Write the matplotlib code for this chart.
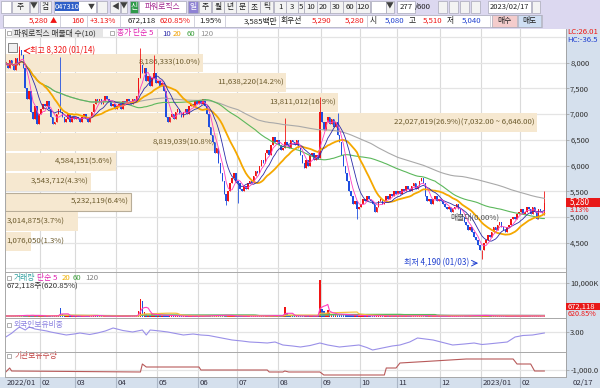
import numpy as np
import pandas as pd
import matplotlib
matplotlib.use('Agg')
import matplotlib.pyplot as plt
from matplotlib.patches import Rectangle

plt.rcParams['font.family'] = ['Noto Sans CJK KR', 'DejaVu Sans']

# ---------------- DATA ----------------
month_labels = ['2022/01', '02', '03', '04', '05', '06', '07', '08', '09', '10', '11', '12', '2023/01', '02']
month_bars = [18, 18, 21, 21, 21, 20, 21, 22, 20, 19, 22, 21, 20, 13]

close_2022_01 = [8000, 7900, 8050, 7950, 7850, 8100, 7950, 8250, 8150, 7900, 7500, 7300, 7450, 7050, 6900, 7150, 6800, 7000]
close_2022_02 = [7100, 7200, 7150, 7250, 7100, 6950, 6800, 6850, 7000, 7100, 7050, 6950, 6850, 6900, 7000, 6850, 6950, 6900]
close_2022_03 = [6950, 6900, 6850, 6950, 7000, 6900, 6850, 6950, 7050, 7200, 7300, 7250, 7300, 7200, 7250, 7350, 7300, 7250, 7150, 7200, 7100]
close_2022_04 = [7150, 7200, 7100, 7250, 7200, 7300, 7250, 7200, 7300, 7250, 7350, 7700, 7950, 7800, 7900, 7650, 7750, 7550, 7700, 7800, 7600]
close_2022_05 = [7650, 7550, 7600, 7450, 6950, 6850, 6950, 7000, 6900, 7050, 7100, 7000, 6950, 7050, 7100, 7000, 7150, 7200, 7150, 7250, 7200]
close_2022_06 = [7250, 7200, 7300, 7150, 7000, 6750, 6600, 6450, 6250, 6350, 6050, 5850, 5700, 5450, 5300, 5500, 5650, 5750, 5850, 5700]
close_2022_07 = [5650, 5550, 5500, 5600, 5550, 5650, 5700, 5650, 5800, 5900, 5850, 6000, 6100, 6050, 6250, 6300, 6200, 6400, 6550, 6450, 6500]
close_2022_08 = [6400, 6300, 6350, 6450, 6400, 6350, 6500, 6450, 6400, 6500, 6350, 6200, 6050, 5950, 6100, 6000, 6200, 6250, 6100, 6200, 6150, 7050]
close_2022_09 = [6850, 6700, 6850, 6950, 6800, 6900, 6750, 6850, 6600, 6450, 6200, 6000, 5850, 5700, 5500, 5400, 5250, 5300, 5150, 5200]
close_2022_10 = [5250, 5350, 5300, 5400, 5350, 5300, 5250, 5100, 5200, 5300, 5350, 5250, 5300, 5400, 5350, 5450, 5400, 5500, 5450]
close_2022_11 = [5500, 5450, 5550, 5500, 5600, 5550, 5500, 5600, 5650, 5550, 5600, 5700, 5750, 5650, 5400, 5300, 5350, 5250, 5350, 5400, 5300, 5350]
close_2022_12 = [5300, 5250, 5200, 5150, 5200, 5100, 5150, 5200, 5250, 5150, 5050, 5000, 4900, 4850, 4750, 4800, 4700, 4600, 4550, 4450, 4350]
close_2023_01 = [4350, 4500, 4550, 4650, 4600, 4700, 4800, 4750, 4850, 4900, 4800, 4750, 4700, 4800, 4850, 4950, 5000, 4950, 5050, 5100]
close_2023_02 = [5150, 5050, 5100, 5200, 5150, 5050, 5200, 5100, 4950, 5150, 5100, 5080, 5280]

open_override = {276: 5080}
high_override = {7: 8320, 28: 8120, 69: 8290, 76: 8150, 143: 6930, 161: 7330, 170: 7030, 276: 5510}
low_override = {113: 5230, 119: 5270, 180: 4950, 244: 4190, 276: 5040}

vol_2022_01 = [310, 280, 350, 260, 300, 420, 380, 520, 450, 390, 610, 480, 430, 550, 470, 380, 520, 400]
vol_2022_02 = [350, 300, 280, 320, 260, 380, 420, 350, 300, 330, 2600, 900, 450, 380, 320, 300, 280, 350]
vol_2022_03 = [250, 230, 280, 240, 220, 260, 300, 280, 320, 650, 500, 380, 300, 270, 250, 260, 310, 280, 240, 230, 260]
vol_2022_04 = [220, 250, 210, 260, 240, 230, 280, 260, 300, 350, 450, 1800, 5300, 4700, 1500, 900, 700, 600, 1100, 800, 600]
vol_2022_05 = [550, 480, 420, 650, 500, 400, 350, 300, 320, 280, 300, 260, 250, 270, 240, 230, 280, 300, 260, 280, 250]
vol_2022_06 = [260, 240, 280, 300, 350, 420, 380, 400, 450, 350, 480, 520, 450, 600, 550, 400, 350, 330, 300, 280]
vol_2022_07 = [300, 280, 250, 260, 240, 230, 260, 250, 280, 300, 270, 320, 350, 300, 380, 400, 350, 420, 480, 400, 380]
vol_2022_08 = [450, 380, 420, 3000, 1200, 500, 400, 350, 330, 300, 320, 280, 300, 350, 380, 300, 280, 260, 300, 280, 350, 11000]
vol_2022_09 = [2500, 1800, 1200, 2000, 1100, 900, 800, 700, 900, 1000, 800, 700, 650, 600, 700, 550, 500, 450, 500, 420]
vol_2022_10 = [400, 380, 350, 320, 300, 350, 330, 450, 400, 350, 300, 320, 280, 300, 350, 330, 300, 380, 350]
vol_2022_11 = [320, 300, 350, 330, 300, 280, 300, 350, 400, 320, 300, 380, 420, 350, 450, 380, 320, 300, 280, 300, 270, 260]
vol_2022_12 = [250, 240, 260, 230, 220, 250, 240, 230, 260, 250, 280, 300, 320, 350, 400, 350, 380, 420, 400, 450, 500]
vol_2023_01 = [550, 450, 400, 380, 350, 300, 320, 300, 280, 300, 270, 260, 250, 280, 300, 320, 300, 280, 310, 300]
vol_2023_02 = [320, 280, 300, 330, 300, 280, 310, 290, 300, 320, 280, 108, 672]

# volume profile (매물대) : 10 bins from top
profile_top = 8190
profile_step = 386
profile_vol = [8186333, 11638220, 13811012, 22027619, 8819039, 4584151, 3543712, 5232119, 3014875, 1076050]
profile_pct = [10.0, 14.2, 16.9, 26.9, 10.8, 5.6, 4.3, 6.4, 3.7, 1.3]

# foreign ownership (%) at bar index
foreign_idx = [0, 3, 5, 7, 10, 12, 15, 18, 21, 23, 27, 31, 35, 38, 43, 47, 51, 55, 60, 65, 70, 72, 74, 79, 83, 87, 91, 96, 100, 104, 108, 112, 116,
               121, 125, 130, 134, 138, 142, 147, 151, 156, 161, 165, 171, 176, 181, 185, 188, 193, 198, 202, 207, 211, 215, 219, 224, 229, 235,
               240, 244, 247, 252, 257, 261, 265, 270, 273, 276]
foreign_val = [2.80, 2.95, 3.08, 3.20, 3.08, 3.20, 3.12, 3.08, 3.04, 3.00, 2.94, 2.88, 2.92, 2.96, 2.90, 2.96, 3.04, 3.16, 3.06, 3.00, 3.08, 2.88,
               3.08, 3.04, 3.00, 2.94, 2.88, 2.92, 2.88, 2.86, 2.80, 2.74, 2.68, 2.64, 2.60, 2.58, 2.56, 2.60, 2.48, 2.44, 2.40, 2.46, 2.56,
               2.48, 2.40, 2.44, 2.48, 2.38, 2.28, 2.36, 2.44, 2.48, 2.60, 2.76, 2.72, 2.68, 2.58, 2.48, 2.52, 2.56, 2.50, 2.52, 2.56, 2.60,
               2.80, 2.86, 2.88, 2.92, 2.96]

# institutional holdings at bar index
inst_idx = [0, 2, 3, 69, 70, 72, 99, 100, 134, 135, 142, 143, 145, 161, 163, 194, 195, 200, 202, 215, 236, 260, 262, 269, 271, 276]
inst_val = [-1200, -800, -1100, -1200, -400, -700, -700, -1000, -1000, -1200, -1200, -1100, -1200, -1200, -1500, -1500, -800, -800, -300,
            -150, 100, 100, -400, -400, -1100, -1100]

price_ticks = [8000, 7500, 7000, 6500, 6000, 5500, 5000, 4500]

# ---------------- BUILD ----------------
close = np.array(close_2022_01 + close_2022_02 + close_2022_03 + close_2022_04 + close_2022_05 + close_2022_06 + close_2022_07 +
                 close_2022_08 + close_2022_09 + close_2022_10 + close_2022_11 + close_2022_12 + close_2023_01 + close_2023_02, float)
vol = np.array(vol_2022_01 + vol_2022_02 + vol_2022_03 + vol_2022_04 + vol_2022_05 + vol_2022_06 + vol_2022_07 +
               vol_2022_08 + vol_2022_09 + vol_2022_10 + vol_2022_11 + vol_2022_12 + vol_2023_01 + vol_2023_02, float)
n = len(close)
idx = np.arange(n)
opn = np.r_[close[0], close[:-1]]
for k, v in open_override.items():
    opn[k] = v
hi = np.maximum(opn, close)
lo = np.minimum(opn, close)
for k, v in high_override.items():
    hi[k] = v
for k, v in low_override.items():
    lo[k] = v
up = close >= opn
RED, BLUE = '#f01414', '#1f4fe0'
cols = np.where(up, RED, BLUE)
cs = pd.Series(close)
mas = {p: cs.rolling(p, min_periods=1).mean() for p in (5, 10, 20, 60, 120)}
vs = pd.Series(vol)
vmas = {p: vs.rolling(p, min_periods=1).mean() for p in (5, 20, 60, 120)}
mstart = np.r_[0, np.cumsum(month_bars)[:-1]]

W, H = 600, 388
fig = plt.figure(figsize=(6, 3.88), dpi=100)
fig.patch.set_facecolor('white')


def axpx(x0, y0, x1, y1):
    return fig.add_axes([x0 / W, 1 - y1 / H, (x1 - x0) / W, (y1 - y0) / H])


def fbox(x0, y0, x1, y1, fc, ec='none', lw=0.6, z=0):
    fig.add_artist(Rectangle((x0 / W, 1 - y1 / H), (x1 - x0) / W, (y1 - y0) / H, transform=fig.transFigure,
                             fc=fc, ec=ec, lw=lw, zorder=z))


def ftext(x, y, s, size=5.6, color='#202020', ha='left', z=5, **kw):
    fig.text(x / W, 1 - y / H, s, fontsize=size, color=color, ha=ha, va='center', zorder=z, **kw)


XL = (-0.4, 287.1)
GRID = '#dadada'

fbox(566, 28, 600, 388, '#d5e0ed')
fbox(0, 377, 600, 388, '#d5e0ed')


def style(ax):
    ax.set_xlim(*XL)
    ax.set_facecolor('white')
    for s in ['left', 'top', 'bottom']:
        ax.spines[s].set_visible(False)
    ax.spines['right'].set_color('#9a9a9a')
    ax.spines['right'].set_linewidth(0.6)
    ax.set_xticks([])
    ax.yaxis.tick_right()
    ax.tick_params(axis='y', labelsize=5.5, length=2, pad=1, colors='#9a9a9a', labelcolor='#303030', width=0.5)
    for m in mstart[1:]:
        ax.axvline(m - 0.5, color=GRID, lw=0.8, zorder=0)


# ---------- price panel ----------
ax = axpx(5, 29, 566, 272)
style(ax)
ax.set_ylim(3928, 8656)
for p in [8500] + price_ticks + [4000]:
    ax.axhline(p, color='#e4e4e4', lw=0.9, zorder=0)
ax.set_yticks(price_ticks)
ax.set_yticklabels([f'{p:,}' for p in price_ticks])

span = XL[1] - XL[0]
maxv = max(profile_vol)
for b, (v, pc) in enumerate(zip(profile_vol, profile_pct)):
    top = profile_top - b * profile_step
    cen = top - profile_step / 2
    wfrac = v / maxv * 0.948
    hl = (b == 7)
    ax.barh(cen, wfrac * span, height=profile_step * 0.93, left=XL[0], color='#f6e8d0',
            ec='#b8ad98' if hl else 'none', lw=0.8, zorder=1)
    label = f'{v:,}({pc}%)'
    if b == 3:
        label += f'({profile_top - 3 * profile_step:,}.00 ~ {profile_top - 4 * profile_step:,}.00)'
    end = XL[0] + wfrac * span
    if wfrac > 0.13:
        ax.text(end - 1.2, cen, label, fontsize=5.6, color='#6b5a2c', ha='right', va='center', zorder=2)
    else:
        ax.text(XL[0] + 0.8, cen, label, fontsize=5.6, color='#6b5a2c', ha='left', va='center', zorder=2)

ax.vlines(idx, lo, hi, colors=cols, lw=0.6, zorder=3)
body_h = np.maximum(np.abs(close - opn), 12)
ax.bar(idx, body_h, bottom=np.minimum(opn, close), width=0.82, color=cols, lw=0, zorder=4)

ax.plot(idx, mas[120], color='#a9a9a9', lw=0.8, zorder=5)
ax.plot(idx, mas[60], color='#5cb85c', lw=0.8, zorder=5)
ax.plot(idx, mas[20], color='#f5a800', lw=1.3, zorder=6)
ax.plot(idx, mas[10], color='#2c2ca8', lw=0.6, zorder=6)
ax.plot(idx, mas[5], color='#ff3fc0', lw=0.6, zorder=6)

i_hi = int(np.argmax(hi))
i_lo = int(np.argmin(lo))
ax.annotate('', xy=(i_hi + 0.5, 8320 - 90), xytext=(i_hi + 5, 8320 - 90),
            arrowprops=dict(arrowstyle='->', color=RED, lw=0.7), zorder=8)
ax.text(i_hi + 5.5, 8320 - 90, f'최고 {int(hi[i_hi]):,} (01/14)', fontsize=5.8, color=RED, va='center', zorder=8)
ax.annotate('', xy=(i_lo - 0.5, 4190 - 90), xytext=(i_lo - 6, 4190 - 90),
            arrowprops=dict(arrowstyle='->', color='#2040d0', lw=0.7), zorder=8)
ax.text(i_lo - 6.5, 4190 - 90, f'최저 {int(lo[i_lo]):,} (01/03)', fontsize=5.8, color='#2040d0', va='center', ha='right', zorder=8)
ax.text(228, 5000, '매물대(0.00%)', fontsize=5.6, color='#505050', va='center', zorder=7)

fbox(7, 31, 11, 35, 'white', '#909090', lw=0.5, z=6)
fbox(12, 29, 103, 38, '#e6e6e6', z=5)
ftext(14, 33.5, '파워로직스 매물대 수(10)', color='#303030', z=7)
fbox(110, 31, 114, 35, 'white', '#909090', lw=0.5, z=6)
ftext(117, 33.5, '종가 단순 5', color='#e020b0', z=7)
ftext(162, 33.5, '10', color='#2c2ca8', z=7)
ftext(173, 33.5, '20', color='#f0a000', z=7)
ftext(187, 33.5, '60', color='#40a040', z=7)
ftext(200, 33.5, '120', color='#909090', z=7)
fbox(8, 43, 17, 52, '#f0f0f0', '#707070', lw=0.6, z=7)

ftext(567, 32, 'LC:26.01', color=RED, size=5.6, z=9)
ftext(567, 40.5, 'HC:-36.5', color='#2040d0', size=5.6, z=9)
fbox(566, 197.5, 600, 206.5, '#e81818', z=8)
ftext(570, 202, '5,280', color='white', size=5.8, z=9)
ftext(570, 209.8, '3.13%', color=RED, size=5.0, z=9)

# ---------- volume panel ----------
axv = axpx(5, 272, 566, 318)
style(axv)
axv.set_ylim(-294, 13235)
axv.axhline(10000, color='#e4e4e4', lw=0.9, zorder=0)
axv.set_yticks([10000])
axv.set_yticklabels(['10,000K'])
axv.bar(idx, vol, width=0.82, color=cols, lw=0, zorder=3)
axv.plot(idx, vmas[120], color='#b0b0b0', lw=0.9, zorder=4)
axv.plot(idx, vmas[60], color='#5cb85c', lw=0.9, zorder=4)
axv.plot(idx, vmas[20], color='#f5c040', lw=0.9, zorder=4)
axv.plot(idx, vmas[5], color='#ff3fc0', lw=0.8, zorder=4)
fbox(7, 276, 11, 280, 'white', '#909090', lw=0.5, z=6)
ftext(14, 278, '거래량', color='#30a0a0', z=7)
ftext(37, 278, '단순 5', color='#e020b0', z=7)
ftext(62, 278, '20', color='#f0b000', z=7)
ftext(73, 278, '60', color='#40a040', z=7)
ftext(85, 278, '120', color='#808080', z=7)
ftext(7, 286, f'{int(vol[-1] * 1000 + 118):,}주(620.85%)', color='#303030', z=7)
fbox(566, 302.5, 600, 310, '#e81818', z=8)
ftext(568, 306.2, '672,118', color='white', size=5.5, z=9)
ftext(568, 313.8, '620.85%', color=RED, size=5.2, z=9)

# ---------- foreign ownership ----------
axf = axpx(5, 318, 566, 352)
style(axf)
axf.set_ylim(2.20, 3.56)
axf.axhline(3.0, color='#e4e4e4', lw=0.9, zorder=0)
axf.set_yticks([3.0])
axf.set_yticklabels(['3.00'])
axf.plot(foreign_idx, foreign_val, color='#9a90e8', lw=0.8, zorder=3)
fbox(7, 323, 11, 327, 'white', '#909090', lw=0.5, z=6)
ftext(14, 325, '외국인보유비중', color='#8a80e0', z=7)

# ---------- institutional ----------
axi = axpx(5, 352, 566, 377)
style(axi)
axi.set_ylim(-1700, 800)
axi.axhline(-1000, color='#e4e4e4', lw=0.9, zorder=0)
axi.set_yticks([-1000])
axi.set_yticklabels(['-1,000.0'])
axi.plot(inst_idx, inst_val, color='#b85a5a', lw=0.8, zorder=3)
fbox(7, 354, 11, 358, 'white', '#909090', lw=0.5, z=6)
ftext(14, 356, '기관보유수량', color='#c04040', z=7)

for yy in (272, 318, 352, 377):
    fig.add_artist(plt.Line2D([5 / W, 566 / W], [1 - yy / H, 1 - yy / H], transform=fig.transFigure, color='#a8a8a8', lw=0.7, zorder=9))
fig.add_artist(plt.Line2D([5 / W, 5 / W], [1 - 29 / H, 1 - 377 / H], transform=fig.transFigure, color='#a8a8a8', lw=0.7, zorder=9))

# ---------- date axis ----------
axx = axpx(5, 377, 566, 388)
axx.set_xlim(*XL)
axx.set_ylim(0, 1)
axx.axis('off')
axx.add_patch(Rectangle((XL[0], 0), span, 1, color='#d5e0ed', zorder=0))
for m, lab in zip(mstart, month_labels):
    if m > 0:
        axx.axvline(m - 0.5, color='#aab6c6', lw=0.8)
    axx.text(m + 0.2, 0.45, lab, fontsize=5.6, color='#303040', va='center', ha='left')
ftext(573, 382.5, '02/17', color='#303040')

# ---------- toolbar ----------
LAV = '#dcd8f0'
fbox(0, 0, 600, 28.5, LAV, z=1)
BTN = '#f3f3f3'
BEC = '#a8a8b8'
row1 = [(1, 11, '', 'white', '#303030'), (12, 29, '주', BTN, '#202020'), (30, 38, '▼', BTN, '#404040'),
        (40, 51, '검', BTN, '#202020'), (54, 96, '', 'white', '#202020'), (97, 107, '', BTN, '#202020'),
        (110, 120, '◀', BTN, '#404040'), (121, 127, '▼', BTN, '#404040'),
        (130, 138, '신', '#2f9a4a', 'white'), (139, 186, '파워로직스', 'white', '#a0208c'),
        (188, 198, '일', '#8e82d4', 'white'), (199, 211, '주', BTN, '#202020'), (212, 224, '월', BTN, '#202020'),
        (224, 236, '년', BTN, '#202020'), (236, 248, '분', BTN, '#202020'), (248, 260, '초', BTN, '#202020'),
        (260, 273, '틱', BTN, '#202020'), (274, 286, '1', BTN, '#202020'), (286, 298, '3', BTN, '#202020'),
        (298, 304, '5', BTN, '#202020'), (304, 317, '10', BTN, '#202020'), (317, 330, '20', BTN, '#202020'),
        (330, 343, '30', BTN, '#202020'), (343, 356, '60', BTN, '#202020'), (356, 370, '120', BTN, '#202020'),
        (371, 386, '', 'white', '#202020'), (386, 394, '▼', BTN, '#404040'), (397, 415, '277', 'white', '#202020'),
        (438, 447, '', BTN, '#202020'), (449, 458, '', BTN, '#202020'), (460, 469, '', BTN, '#202020'),
        (471, 480, '', BTN, '#202020'), (488, 531, '2023/02/17', 'white', '#202020'), (532, 540, '', BTN, '#202020')]
for x0, x1, s, fc, tc in row1:
    fbox(x0, 1, x1, 12.5, fc, BEC, lw=0.5, z=2)
    if s:
        ftext((x0 + x1) / 2, 6.8, s, color=tc, ha='center', size=5.6 if len(s) < 6 else 5.4, z=3)
fbox(55, 2.5, 79, 11, '#2f5fc8', z=3)
ftext(67, 6.8, '047310', color='white', ha='center', size=5.4, z=4)
ftext(88, 6.8, '▼', color='#404040', size=5, z=4)
ftext(415, 6.8, '/600', color='#202020', size=5.6, z=3)

fbox(3, 14.5, 542, 27, 'white', BEC, lw=0.5, z=2)
for xs in (60, 87, 120, 194, 225, 279, 367, 490):
    fig.add_artist(plt.Line2D([xs / W, xs / W], [1 - 15 / H, 1 - 27 / H], transform=fig.transFigure, color='#c0c0d0', lw=0.5, zorder=3))
r2 = 21
ftext(48, r2, '5,280', color=RED, ha='right', size=5.6)
ftext(50, r2, '▲', color=RED, size=5.2)
ftext(84, r2, '160', color=RED, ha='right', size=5.6)
ftext(116, r2, '+3.13%', color=RED, ha='right', size=5.6)
ftext(156, r2, '672,118', color='#202020', ha='right', size=5.6)
ftext(191, r2, '620.85%', color=RED, ha='right', size=5.6)
ftext(222, r2, '1.95%', color='#202020', ha='right', size=5.6)
ftext(277, r2, '3,585백만', color='#202020', ha='right', size=5.6)
ftext(281, r2, '회우선', color='#202020', size=5.6)
ftext(331, r2, '5,290', color=RED, ha='right', size=5.6)
ftext(364, r2, '5,280', color=RED, ha='right', size=5.6)
ftext(370, r2, '시', color='#202020', size=5.6)
ftext(404, r2, '5,080', color='#2040d0', ha='right', size=5.6)
ftext(409, r2, '고', color='#202020', size=5.6)
ftext(442, r2, '5,510', color=RED, ha='right', size=5.6)
ftext(447, r2, '저', color='#202020', size=5.6)
ftext(481, r2, '5,040', color='#2040d0', ha='right', size=5.6)
fbox(492, 15.5, 517, 26.5, '#f4cccc', BEC, lw=0.5, z=4)
ftext(504.5, r2, '매수', color='#202020', ha='center', size=5.6, z=5)
fbox(518, 15.5, 541, 26.5, '#cfdff4', BEC, lw=0.5, z=4)
ftext(529.5, r2, '매도', color='#202020', ha='center', size=5.6, z=5)

fig.savefig('out.png', dpi=100)
